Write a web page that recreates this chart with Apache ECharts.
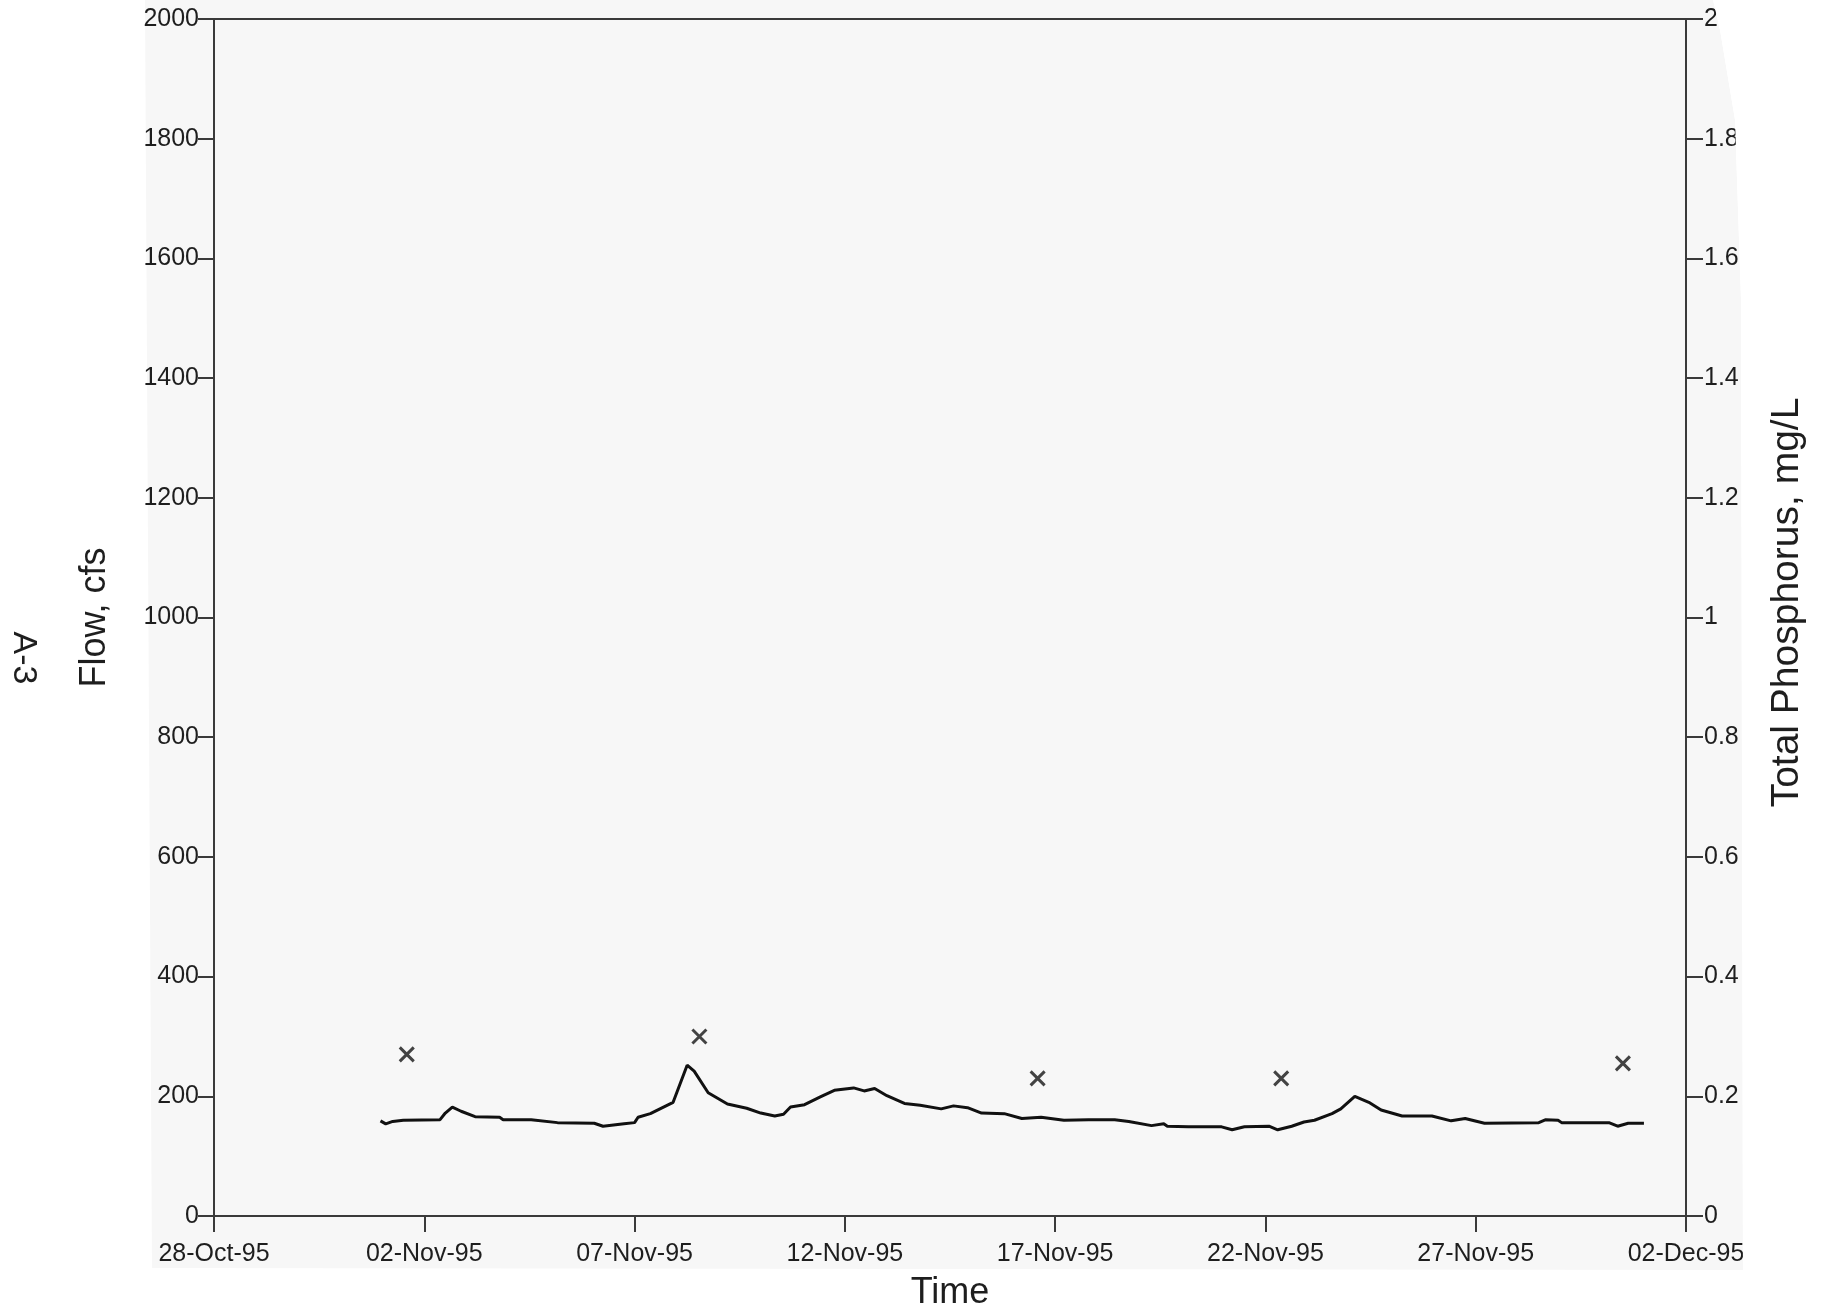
<!DOCTYPE html>
<html>
<head>
<meta charset="utf-8">
<title>Flow and Total Phosphorus</title>
<script src="https://cdn.jsdelivr.net/npm/echarts@6/dist/echarts.min.js"></script>
<style>
  html, body { margin: 0; padding: 0; background: #ffffff; }
  #chart { width: 1821px; height: 1312px; }
</style>
</head>
<body>
<div id="chart"></div>
<script>
// Flow record (cfs), read as time / value pairs
const flowTimes = [
  '1995-10-31 23:00', '1995-11-01 02:00', '1995-11-01 06:00', '1995-11-01 12:00',
  '1995-11-02 09:00', '1995-11-02 12:00', '1995-11-02 16:00', '1995-11-02 21:00',
  '1995-11-03 05:00', '1995-11-03 19:00', '1995-11-03 21:00', '1995-11-04 13:00',
  '1995-11-05 04:00', '1995-11-06 01:00', '1995-11-06 06:00', '1995-11-06 18:00',
  '1995-11-07 00:00', '1995-11-07 02:00', '1995-11-07 09:00', '1995-11-07 22:00',
  '1995-11-08 06:00', '1995-11-08 10:00', '1995-11-08 18:00', '1995-11-09 05:00',
  '1995-11-09 16:00', '1995-11-10 00:00', '1995-11-10 08:00', '1995-11-10 13:00',
  '1995-11-10 17:00', '1995-11-11 01:00', '1995-11-11 10:00', '1995-11-11 18:00',
  '1995-11-12 05:00', '1995-11-12 11:00', '1995-11-12 17:00', '1995-11-13 00:00',
  '1995-11-13 10:00', '1995-11-13 19:00', '1995-11-14 07:00', '1995-11-14 14:00',
  '1995-11-14 22:00', '1995-11-15 06:00', '1995-11-15 19:00', '1995-11-16 05:00',
  '1995-11-16 16:00', '1995-11-17 05:00', '1995-11-17 19:00', '1995-11-18 10:00',
  '1995-11-18 18:00', '1995-11-19 07:00', '1995-11-19 14:00', '1995-11-19 16:00',
  '1995-11-20 04:00', '1995-11-20 23:00', '1995-11-21 05:00', '1995-11-21 12:00',
  '1995-11-22 02:00', '1995-11-22 07:00', '1995-11-22 15:00', '1995-11-22 22:00',
  '1995-11-23 04:00', '1995-11-23 14:00', '1995-11-23 19:00', '1995-11-24 03:00',
  '1995-11-24 11:00', '1995-11-24 18:00', '1995-11-25 06:00', '1995-11-25 23:00',
  '1995-11-26 10:00', '1995-11-26 18:00', '1995-11-27 05:00', '1995-11-28 12:00',
  '1995-11-28 16:00', '1995-11-28 23:00', '1995-11-29 01:00', '1995-11-30 04:00',
  '1995-11-30 09:00', '1995-11-30 15:00', '1995-12-01 00:00'
];
const flowCfs = [
  159, 154, 158, 160,
  161, 172, 182, 175,
  166, 165, 161, 161,
  156, 155, 150, 154,
  156, 165, 171, 190,
  252, 242, 206, 187,
  180, 172, 167, 170,
  182, 186, 199, 210,
  214, 209, 213, 201,
  188, 185, 179, 184,
  181, 172, 171, 163,
  165, 160, 161, 161,
  158, 151, 154, 150,
  149, 149, 144, 149,
  150, 144, 150, 157,
  160, 171, 179, 200,
  190, 177, 167, 167,
  159, 163, 155, 156,
  161, 160, 156, 156,
  150, 155, 155
];

// Total phosphorus grab samples (mg/L)
const tpTimes = ['1995-11-01 14:00', '1995-11-08 13:00', '1995-11-16 14:00', '1995-11-22 09:00', '1995-11-30 12:00'];
const tpMgL = [0.27, 0.30, 0.23, 0.23, 0.255];

// Axis extents
const xStart = '1995-10-28 00:00';
const xEnd = '1995-12-02 00:00';
const xTickDays = 5;
const flowMax = 2000;
const flowStep = 200;
const tpMax = 2;
const tpStep = 0.2;

const MONTHS = ['Jan', 'Feb', 'Mar', 'Apr', 'May', 'Jun', 'Jul', 'Aug', 'Sep', 'Oct', 'Nov', 'Dec'];
const DAY_MS = 86400000;

function parseUTC(s) {
  const [d, t] = s.split(' ');
  const [Y, M, D] = d.split('-').map(Number);
  const [h, m] = (t || '00:00').split(':').map(Number);
  return Date.UTC(Y, M - 1, D, h, m);
}
const BASE = parseUTC(xStart);
const toDays = s => (parseUTC(s) - BASE) / DAY_MS;

function dayLabel(v) {
  const dt = new Date(BASE + Math.round(v * DAY_MS));
  const dd = String(dt.getUTCDate()).padStart(2, '0');
  const yy = String(dt.getUTCFullYear()).slice(-2);
  return dd + '-' + MONTHS[dt.getUTCMonth()] + '-' + yy;
}

const flowData = flowTimes.map((t, i) => [toDays(t), flowCfs[i]]);
const tpData = tpTimes.map((t, i) => [toDays(t), tpMgL[i]]);

const FONT = '"Liberation Sans", Arial, Helvetica, sans-serif';
const AXIS_COLOR = '#3a3a3a';
const TEXT_COLOR = '#1e1e1e';

const chart = echarts.init(document.getElementById('chart'), null, { renderer: 'canvas' });

chart.setOption({
  backgroundColor: '#ffffff',
  animation: false,
  textStyle: { fontFamily: FONT },
  grid: {
    left: 214, right: 135, top: 19, bottom: 96,
    containLabel: false,
    outerBoundsMode: 'none',
    show: true,
    borderColor: AXIS_COLOR,
    borderWidth: 2,
    backgroundColor: 'transparent'
  },
  xAxis: {
    type: 'value',
    min: 0,
    max: toDays(xEnd),
    interval: xTickDays,
    name: 'Time',
    nameLocation: 'middle',
    nameGap: 59,
    nameTextStyle: { fontSize: 36, color: TEXT_COLOR, fontFamily: FONT },
    axisLine: { show: true, lineStyle: { color: AXIS_COLOR, width: 2 } },
    axisTick: { show: true, inside: false, length: 16, lineStyle: { color: AXIS_COLOR, width: 2 } },
    axisLabel: { margin: 26, fontSize: 25, color: TEXT_COLOR, fontFamily: FONT, formatter: dayLabel, showMinLabel: true, showMaxLabel: true },
    splitLine: { show: false }
  },
  yAxis: [
    {
      type: 'value',
      position: 'left',
      min: 0,
      max: flowMax,
      interval: flowStep,
      name: 'Flow, cfs',
      nameLocation: 'middle',
      nameGap: 101,
      nameRotate: 90,
      nameTextStyle: { fontSize: 36, color: TEXT_COLOR, fontFamily: FONT },
      axisLine: { show: true, lineStyle: { color: AXIS_COLOR, width: 2 } },
      axisTick: { show: true, inside: false, length: 16, lineStyle: { color: AXIS_COLOR, width: 2 } },
      axisLabel: { margin: 15, fontSize: 25, color: TEXT_COLOR, fontFamily: FONT, formatter: v => String(v) },
      splitLine: { show: false }
    },
    {
      type: 'value',
      position: 'right',
      min: 0,
      max: tpMax,
      interval: tpStep,
      name: 'Total Phosphorus, mg/L',
      nameLocation: 'middle',
      nameGap: 82,
      nameRotate: 90,
      nameTextStyle: { fontSize: 39, color: TEXT_COLOR, fontFamily: FONT, padding: [0, 0, 0, 30] },
      axisLine: { show: true, lineStyle: { color: AXIS_COLOR, width: 2 } },
      axisTick: { show: true, inside: false, length: 17, lineStyle: { color: AXIS_COLOR, width: 2 } },
      axisLabel: { margin: 18, fontSize: 25, color: TEXT_COLOR, fontFamily: FONT, formatter: v => String(+v.toFixed(1)) },
      splitLine: { show: false }
    }
  ],
  graphic: [
    {
      // page sheet behind the plot
      type: 'polygon',
      z: -10,
      silent: true,
      shape: { points: [[145, 0], [1713, 0], [1720, 30], [1735, 120], [1741, 300], [1743, 1270], [152, 1268]] },
      style: { fill: '#f7f7f7' }
    },
    {
      // sheet edge trims the right-hand tick labels
      type: 'polygon',
      z: 100,
      silent: true,
      shape: { points: [[1713, 0], [1720, 30], [1735, 120], [1741, 300], [1743, 1312], [1760, 1312], [1760, 0]] },
      style: { fill: '#ffffff' }
    },
    {
      type: 'text',
      z: 101,
      silent: true,
      x: 23,
      y: 658,
      rotation: -Math.PI / 2,
      style: {
        text: 'A-3',
        fontSize: 34,
        fontFamily: FONT,
        fill: TEXT_COLOR,
        align: 'center',
        verticalAlign: 'middle'
      }
    }
  ],
  series: [
    {
      name: 'Flow',
      type: 'line',
      yAxisIndex: 0,
      data: flowData,
      symbol: 'none',
      smooth: false,
      lineStyle: { color: '#111111', width: 3 },
      z: 3
    },
    {
      name: 'Total Phosphorus',
      type: 'scatter',
      yAxisIndex: 1,
      data: tpData,
      symbol: 'path://M0,0L10,10M10,0L0,10',
      symbolSize: 14,
      symbolKeepAspect: true,
      itemStyle: { color: 'none', borderColor: '#151515', borderWidth: 3 },
      z: 4
    }
  ]
});
</script>
</body>
</html>
